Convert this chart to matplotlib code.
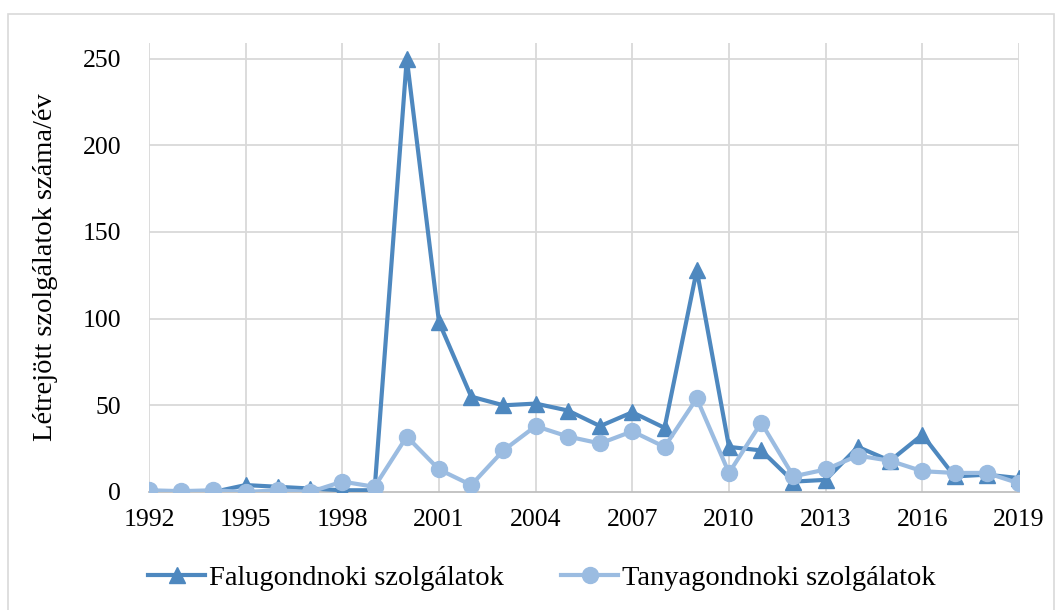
import matplotlib
matplotlib.use('Agg')
import matplotlib.pyplot as plt
from matplotlib.patches import Rectangle

# adatok
evek = list(range(1992, 2020))
falugondnoki = [0, 0, 0, 4, 3, 2, 1, 1, 250, 98, 55, 50, 51, 47, 38,
                46, 37, 128, 26, 24, 6, 7, 26, 18, 33, 9, 10, 8]
tanyagondnoki = [1, 0.5, 1, 0, 1, 0, 6, 3, 32, 13, 4, 24, 38, 32, 28,
                 35, 26, 54, 11, 40, 9, 13, 21, 18, 12, 11, 11, 5]
x_ticks = list(range(1992, 2020, 3))
y_ticks = [0, 50, 100, 150, 200, 250]

plt.rcParams['font.family'] = ['Liberation Serif', 'DejaVu Serif']

fig = plt.figure(figsize=(10.64, 6.10), dpi=100)
ax = fig.add_axes([149 / 1064, 1 - 492 / 610, 870 / 1064, 449 / 610])

sotet = '#4E88BF'
vilagos = '#9BBCE1'

ax.plot(evek, falugondnoki, color=sotet, lw=3.0, marker='^', markersize=11.5,
        label='Falugondnoki szolgálatok', zorder=3)
ax.plot(evek, tanyagondnoki, color=vilagos, lw=3.0, marker='o', markersize=11.5,
        label='Tanyagondnoki szolgálatok', zorder=4)

ax.set_xlim(1992, 2019)
ax.set_ylim(0, 259)
ax.set_xticks(x_ticks)
ax.set_yticks(y_ticks)
ax.tick_params(length=0, labelsize=18.5)
ax.tick_params(axis='x', pad=12)
ax.tick_params(axis='y', pad=20)

for x in x_ticks:
    ax.axvline(x, color='#d9d9d9', lw=1.3, zorder=1)
for y in y_ticks[1:]:
    ax.axhline(y, color='#d9d9d9', lw=1.3, zorder=1)

for s in ['top', 'right', 'left']:
    ax.spines[s].set_visible(False)
ax.spines['bottom'].set_color('#bfbfbf')
ax.spines['bottom'].set_linewidth(1.3)

ax.set_ylabel('Létrejött szolgálatok száma/év', fontsize=20.5, labelpad=18)

fig.legend(loc='center', bbox_to_anchor=(542 / 1064, 1 - 578 / 610), ncol=2,
           frameon=False, fontsize=20.5, handlelength=2.0, columnspacing=2.0,
           handletextpad=0.15)

fig.patches.append(Rectangle((8 / 1064, -0.01), 1046 / 1064, 1 - 14 / 610 + 0.01,
                             transform=fig.transFigure, fill=False,
                             edgecolor='#d9d9d9', lw=1.2))

fig.savefig('out.png', dpi=100)
